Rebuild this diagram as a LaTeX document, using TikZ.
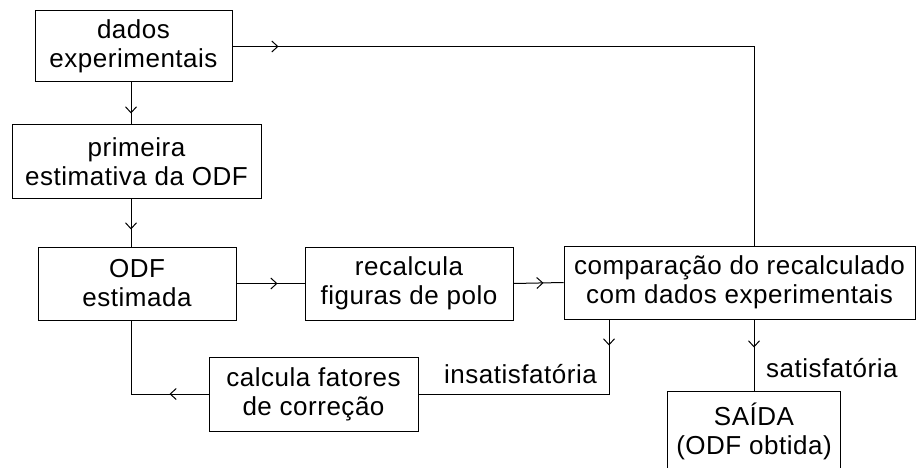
\documentclass[tikz,border=0pt]{standalone}
\usepackage{fontspec}
\setmainfont{Liberation Sans}[LetterSpace=2]
\usepackage{tikz}
\usetikzlibrary{arrows.meta,positioning,calc,decorations.markings}

\begin{document}
\begin{tikzpicture}[x=1pt,y=-1pt,
  blk/.style={draw,line width=1pt,align=center,inner sep=0pt,
    font=\fontsize{26}{29}\selectfont},
  lbl/.style={font=\fontsize{26}{29}\selectfont,inner sep=0pt},
  line/.style={line width=1pt},
  midarrow/.style={line,postaction={decorate},decoration={markings,
    mark=at position #1 with {\arrow{Straight Barb[length=6pt,width=11pt,line width=1pt]}}}}]
\useasboundingbox (0,0) rectangle (916,468);
\clip (0,0) rectangle (916,468);
% boxes of the iteration loop
\node[blk,minimum width=197pt,minimum height=71pt] (dados) at (133.5,46.5) {dados\\experimentais};
\node[blk,minimum width=249pt,minimum height=73pt] (prim) at (136.5,161.5) {primeira\\estimativa da ODF};
\node[blk,minimum width=198pt,minimum height=73pt] (odf) at (137,283.5) {ODF\\estimada};
\node[blk,minimum width=208pt,minimum height=73pt] (recalc) at (409,283.5) {recalcula\\figuras de polo};
\node[blk,minimum width=351pt,minimum height=73pt] (comp) at (739.5,282.5) {compara\c{c}\~ao do recalculado\\com dados experimentais};
\node[blk,minimum width=209pt,minimum height=74pt] (fator) at (313.5,394) {calcula fatores\\de corre\c{c}\~ao};
\node[blk,minimum width=173pt,minimum height=80pt] (saida) at (754,431) {SA\'IDA\\(ODF obtida)};
% taps on the long connectors
\coordinate (spine) at (131,0);
\coordinate (tapin) at (609,0);
% connectors, arrow heads sit along the lines
\draw[midarrow=31pt] (dados.south -| spine) -- (prim.north -| spine);
\draw[midarrow=31pt] (prim.south -| spine) -- (odf.north -| spine);
\draw[midarrow=41pt] (odf.east) -- (recalc.west);
\draw[midarrow=30pt] (recalc.east) -- (comp.west);
\draw[midarrow=46pt] (dados.east) -| (comp.north -| saida.north);
\draw[midarrow=28pt] (comp.south -| saida.north) -- (saida.north);
\draw[midarrow=26pt] (comp.south -| tapin) |- (fator.east);
\draw[midarrow=39pt] (fator.west) -| (odf.south -| spine);
% outcome labels
\node[lbl,anchor=base east] (insat) at (597,383) {insatisfat\'oria};
\node[lbl,anchor=base west] (sat) at (766,377) {satisfat\'oria};
\end{tikzpicture}
\end{document}
